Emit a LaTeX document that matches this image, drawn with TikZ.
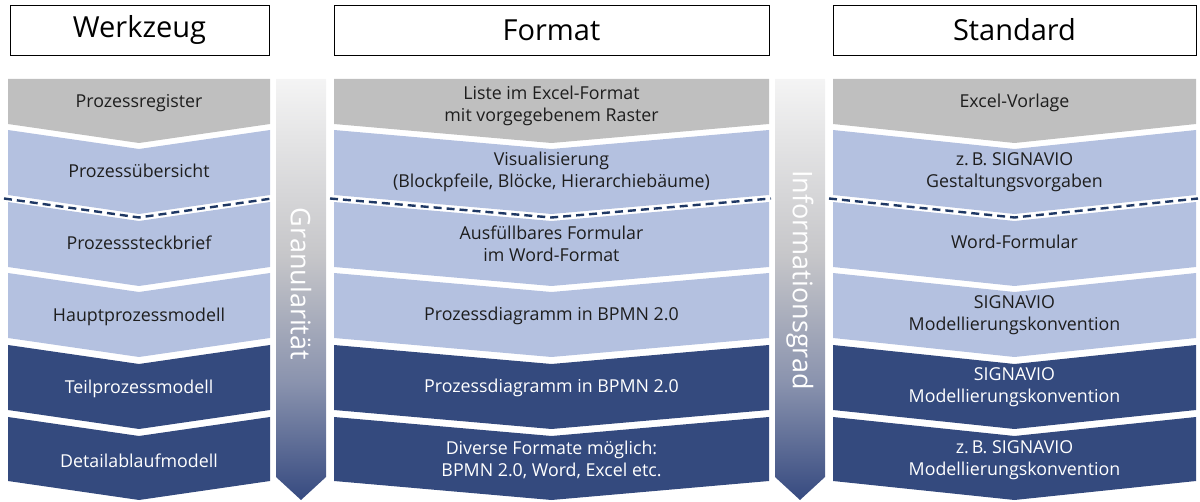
\documentclass[tikz,border=0pt]{standalone}
\usepackage{fontspec}
\setmainfont{Open Sans}
\usepackage{tikz}
\usetikzlibrary{positioning,calc}

\definecolor{rowgray}{HTML}{BFBFBF}
\definecolor{rowlight}{HTML}{B4C1E0}
\definecolor{rowdark}{HTML}{344A7E}
\definecolor{navydash}{HTML}{1F3864}
\definecolor{txtdark}{HTML}{1E1E1E}
\definecolor{arrowdark}{HTML}{364A80}
\definecolor{arrowmid}{HTML}{8A93AE}
\definecolor{arrowgray}{HTML}{C6C6C9}
\definecolor{arrowlight}{HTML}{F4F4F4}

%% shading of the two vertical arrows (bottom -> top, path box is 25bp..75bp)
\pgfdeclareverticalshading{arrowshade}{100bp}{color(0bp)=(arrowdark); color(25bp)=(arrowdark);
  color(39bp)=(arrowmid); color(54bp)=(arrowgray); color(75bp)=(arrowlight);
  color(100bp)=(arrowlight)}

\begin{document}
\begin{tikzpicture}[x=1pt, y=-1pt,
    head/.style={draw, line width=0.9pt, minimum height=50pt, inner sep=0pt,
                 font=\fontsize{29}{31}\selectfont},
    txt/.style={align=center, text=txtdark, font=\fontsize{17.8}{22.5}\selectfont},
    txtw/.style={txt, text=white},
    vlabel/.style={rotate=-90, text=white, font=\fontsize{27}{30}\selectfont},
    dashline/.style={draw=navydash, line width=2.4pt, dash pattern=on 8pt off 5pt},
  ]
  \useasboundingbox (0,0) rectangle (1200,502);

  %% Column headers
  \node[head, minimum width=259pt] (hwz)  at (139.5,30)  {Werkzeug};
  \node[head, minimum width=435pt] (hfmt) at (551.5,30)  {Format};
  \node[head, minimum width=363pt] (hstd) at (1014.5,30) {Standard};

  %% Row 1 (grey, flat top)
  \foreach \xl/\xc/\xr in {8/139/270, 334/551.5/769, 833/1014.5/1196}
    \fill[rowgray] (\xl,79) -- (\xr,79) -- (\xr,124) -- (\xc,143) -- (\xl,124) -- cycle;

  %% Rows 2-4 (light blue)
  \foreach \t/\b in {130/195, 202/267, 273/338}
    \foreach \xl/\xc/\xr in {8/139/270, 334/551.5/769, 833/1014.5/1196}
      \fill[rowlight] (\xl,\t) -- (\xc,\t+19) -- (\xr,\t) -- (\xr,\b) -- (\xc,\b+19)
        -- (\xl,\b) -- cycle;

  %% Rows 5-6 (dark blue)
  \foreach \t/\b in {345/410, 417/481}
    \foreach \xl/\xc/\xr in {8/139/270, 334/551.5/769, 833/1014.5/1196}
      \fill[rowdark] (\xl,\t) -- (\xc,\t+19) -- (\xr,\t) -- (\xr,\b) -- (\xc,\b+19)
        -- (\xl,\b) -- cycle;

  %% Dashed separator between row 2 and row 3
  \draw[dashline] (4,198.5) -- (139,217.5) -- (272,198.5);
  \draw[dashline] (330,198.5) -- (551.5,217.5) -- (771,198.5);
  \draw[dashline] (829,198.5) -- (1014.5,217.5) -- (1198,198.5);

  %% Vertical arrows
  \shade[shading=arrowshade] (276,79) -- (326,79) -- (326,477) -- (301,500) -- (276,477) -- cycle;
  \shade[shading=arrowshade] (775,79) -- (825,79) -- (825,477) -- (800,500) -- (775,477) -- cycle;
  \node[vlabel] (gran) at (301,284) {Granularität};
  \node[vlabel] (info) at (800,280) {Informationsgrad};

  %% Werkzeug
  \node[txt]  (wz1) at (139,103) {Prozessregister};
  \node[txt]  (wz2) at (139,171) {Prozessübersicht};
  \node[txt]  (wz3) at (139,243) {Prozesssteckbrief};
  \node[txt]  (wz4) at (139,317) {Hauptprozessmodell};
  \node[txtw] (wz5) at (139,389) {Teilprozessmodell};
  \node[txtw] (wz6) at (139,461) {Detailablaufmodell};

  %% Format
  \node[txt]  (fm1) at (551.5,106) {Liste im Excel-Format\\mit vorgegebenem Raster};
  \node[txt]  (fm2) at (551.5,172) {Visualisierung\\(Blockpfeile, Blöcke, Hierarchiebäume)};
  \node[txt]  (fm3) at (551.5,244) {Ausfüllbares Formular\\im Word-Format};
  \node[txt]  (fm4) at (551.5,316) {Prozessdiagramm in BPMN 2.0};
  \node[txtw] (fm5) at (551.5,388) {Prozessdiagramm in BPMN 2.0};
  \node[txtw] (fm6) at (551.5,460) {Diverse Formate möglich:\\BPMN 2.0, Word, Excel etc.};

  %% Standard
  \node[txt]  (st1) at (1014.5,103) {Excel-Vorlage};
  \node[txt]  (st2) at (1014.5,172) {z.\,B. SIGNAVIO\\Gestaltungsvorgaben};
  \node[txt]  (st3) at (1014.5,242) {Word-Formular};
  \node[txt]  (st4) at (1014.5,315) {SIGNAVIO\\Modellierungskonvention};
  \node[txtw] (st5) at (1014.5,387) {SIGNAVIO\\Modellierungskonvention};
  \node[txtw] (st6) at (1014.5,460) {z.\,B. SIGNAVIO\\Modellierungskonvention};
\end{tikzpicture}
\end{document}
